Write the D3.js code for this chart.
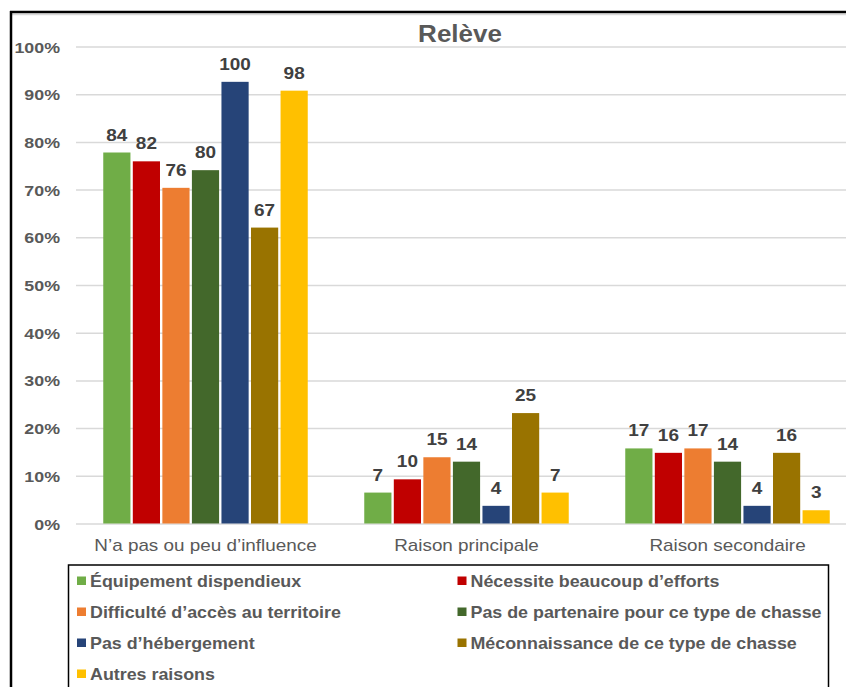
<!DOCTYPE html>
<html lang="fr">
<head>
<meta charset="utf-8">
<script src="https://cdn.jsdelivr.net/npm/d3@7"></script>
<style>
  html, body { margin: 0; padding: 0; background: #fff; }
  svg { display: block; font-family: "Liberation Sans", Arial, sans-serif; }
</style>
</head>
<body>
<svg id="chart" width="846" height="687"></svg>
<script>
// Reasons given, counted per level of influence (n = 108 respondents per reason)
const categories = ["N’a pas ou peu d’influence", "Raison principale", "Raison secondaire"];
const seriesNames = [
  "Équipement dispendieux",
  "Nécessite beaucoup d’efforts",
  "Difficulté d’accès au territoire",
  "Pas de partenaire pour ce type de chasse",
  "Pas d’hébergement",
  "Méconnaissance de ce type de chasse",
  "Autres raisons"
];
const equipement    = [84, 7, 17];
const efforts       = [82, 10, 16];
const acces         = [76, 15, 17];
const partenaire    = [80, 14, 14];
const hebergement   = [100, 4, 4];
const meconnaissance = [67, 25, 16];
const autres        = [98, 7, 3];
const seriesColors = ["#70AD47", "#C00000", "#ED7D31", "#43682B", "#264478", "#997300", "#FFC000"];
const yTicks = [0, 0.1, 0.2, 0.3, 0.4, 0.5, 0.6, 0.7, 0.8, 0.9, 1.0];

const seriesCounts = [equipement, efforts, acces, partenaire, hebergement, meconnaissance, autres];
const series = seriesNames.map((name, i) => {
  const counts = seriesCounts[i];
  const total = d3.sum(counts);
  return { name, color: seriesColors[i], counts, shares: counts.map(c => c / total) };
});

const svg = d3.select("#chart");

// outer frame (left and top edges)
svg.append("line").attr("x1", 11).attr("x2", 846).attr("y1", 14.5).attr("y2", 14.5)
  .attr("stroke", "#d9d9d9").attr("stroke-width", 1.5);
svg.append("line").attr("x1", 10).attr("x2", 846).attr("y1", 12).attr("y2", 12)
  .attr("stroke", "#000").attr("stroke-width", 2.5);
svg.append("line").attr("x1", 11).attr("x2", 11).attr("y1", 11).attr("y2", 687)
  .attr("stroke", "#000").attr("stroke-width", 2.5);

const x0 = d3.scaleBand().domain(categories).range([75, 858])
  .paddingInner(0.2165).paddingOuter(0.10825);
const x1 = d3.scaleBand().domain(seriesNames).range([0, x0.bandwidth()]).paddingInner(0.08);
const y = d3.scaleLinear().domain([0, 1]).range([523.5, 46.5]);

// text with a slight horizontal stretch
function stretchedText(parent, x, yPos, str, sx) {
  return parent.append("text")
    .attr("transform", `translate(${x},${yPos}) scale(${sx},1)`)
    .text(str);
}

// gridlines + y axis labels
const yAxis = d3.axisLeft(y).tickValues(yTicks).tickSize(0).tickFormat(d3.format(".0%"));
const gAxis = svg.append("g").attr("transform", "translate(76,0)").call(yAxis);
gAxis.select(".domain").remove();
gAxis.selectAll(".tick text").remove();
gAxis.selectAll(".tick").each(function(d) {
  const t = d3.select(this);
  t.append("line").attr("x1", 0).attr("x2", 790).attr("y1", 0).attr("y2", 0)
    .attr("stroke", "#d9d9d9").attr("stroke-width", 1.5);
  stretchedText(t, -16, 5.5, d3.format(".0%")(d), 1.15)
    .attr("text-anchor", "end").attr("font-size", 15.5).attr("font-weight", "bold")
    .attr("fill", "#595959");
});

// title
stretchedText(svg, 460, 41.5, "Relève", 1.13)
  .attr("text-anchor", "middle").attr("font-size", 23).attr("font-weight", "bold")
  .attr("fill", "#595959");

// bars
const groups = svg.append("g").selectAll("g").data(categories).join("g")
  .attr("transform", d => `translate(${x0(d)},0)`);

groups.each(function(cat, ci) {
  const g = d3.select(this);
  series.forEach(s => {
    const v = s.shares[ci];
    g.append("rect")
      .attr("x", x1(s.name))
      .attr("y", y(v))
      .attr("width", x1.bandwidth())
      .attr("height", y(0) - y(v))
      .attr("fill", s.color);
    stretchedText(g, x1(s.name) + x1.bandwidth() / 2, y(v) - 12, s.counts[ci], 1.15)
      .attr("text-anchor", "middle").attr("font-size", 16.5).attr("font-weight", "bold")
      .attr("fill", "#404040");
  });
});

// category labels
categories.forEach(c => {
  stretchedText(svg, x0(c) + x0.bandwidth() / 2, 551, c, 1.18)
    .attr("text-anchor", "middle").attr("font-size", 16).attr("fill", "#595959");
});

// legend
svg.append("rect").attr("x", 68.5).attr("y", 565).attr("width", 760).attr("height", 140)
  .attr("fill", "none").attr("stroke", "#000").attr("stroke-width", 1.5);
const legendCols = [77, 457.5];
const legendRows = [587, 618, 649, 680];
series.forEach((s, i) => {
  const lx = legendCols[i % 2];
  const ly = legendRows[Math.floor(i / 2)];
  svg.append("rect").attr("x", lx).attr("y", ly - 10.5).attr("width", 9).attr("height", 8.5)
    .attr("fill", s.color);
  stretchedText(svg, lx + 13, ly, s.name, 1.05)
    .attr("font-size", 17).attr("font-weight", "bold").attr("fill", "#595959");
});
</script>
</body>
</html>
